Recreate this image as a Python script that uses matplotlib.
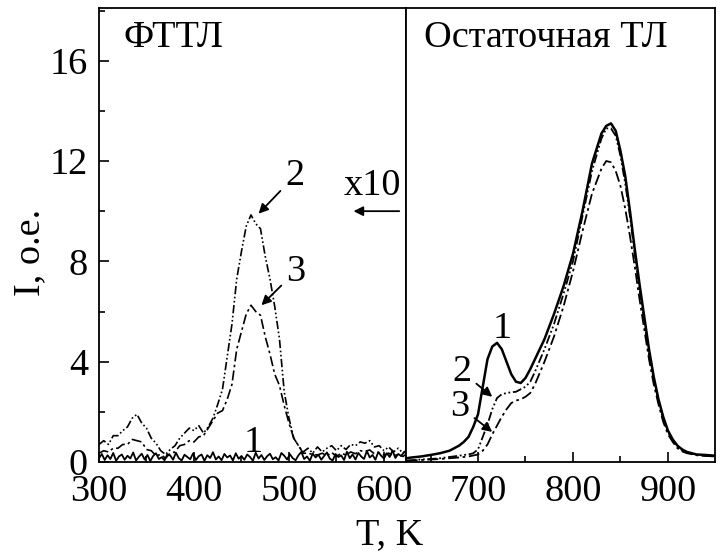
import matplotlib
matplotlib.use("Agg")
import matplotlib.pyplot as plt
from matplotlib.ticker import MultipleLocator, FixedLocator

plt.rcParams['font.family'] = ['Liberation Serif', 'DejaVu Serif']

# ---------------- data ----------------
# Left panel (ФТТЛ, x10)
T1_left = list(range(300, 624, 3))
I1_left = [0.15, 0.32, 0.08, 0.27, 0.12, 0.36, 0.05, 0.22, 0.30, 0.09, 0.25, 0.14, 0.38, 0.06, 0.21, 0.33, 0.10, 0.28, 0.04, 0.24,
           0.35, 0.12, 0.19, 0.07, 0.31, 0.26, 0.09, 0.37, 0.15, 0.06, 0.29, 0.20, 0.11, 0.34, 0.08, 0.23, 0.30, 0.05, 0.27, 0.16,
           0.39, 0.10, 0.22, 0.07, 0.32, 0.18, 0.26, 0.06, 0.35, 0.13, 0.24, 0.09, 0.30, 0.20, 0.05, 0.37, 0.14, 0.28, 0.08, 0.23,
           0.33, 0.11, 0.19, 0.06, 0.36, 0.25, 0.10, 0.31, 0.15, 0.07, 0.27, 0.40, 0.12, 0.22, 0.05, 0.34, 0.18, 0.29, 0.09, 0.24,
           0.38, 0.13, 0.06, 0.32, 0.20, 0.26, 0.08, 0.41, 0.15, 0.30, 0.10, 0.36, 0.22, 0.12, 0.44, 0.18, 0.28, 0.09, 0.40, 0.25,
           0.14, 0.35, 0.20, 0.46, 0.16, 0.32, 0.24, 0.38]

T_left = [300, 305, 310, 315, 320, 325, 330, 335, 340, 345, 350, 355, 360, 365, 370, 375,
          380, 385, 390, 395, 400, 405, 410, 415, 420, 425, 430, 435, 440, 445, 450, 455,
          460, 465, 470, 475, 480, 485, 490, 495, 500, 505, 510, 515, 520, 525, 530, 535,
          540, 545, 550, 555, 560, 565, 570, 575, 580, 585, 590, 595, 600, 605, 610, 615, 620, 623]
I2_left = [0.70, 0.85, 0.70, 1.05, 1.05, 1.25, 1.40, 1.75, 1.90, 1.55, 1.35, 0.95, 0.75, 0.45, 0.30, 0.50,
           0.65, 0.95, 1.15, 1.35, 1.25, 1.45, 1.15, 1.40, 1.75, 2.30, 2.90, 4.20, 5.50, 7.30, 8.40, 9.40,
           9.85, 9.50, 9.30, 8.20, 7.30, 6.20, 4.90, 2.80, 1.75, 0.95, 0.65, 0.40, 0.55, 0.35, 0.60, 0.40,
           0.55, 0.65, 0.45, 0.65, 0.50, 0.70, 0.65, 0.80, 0.75, 0.85, 0.60, 0.65, 0.45, 0.60, 0.40, 0.55, 0.35, 0.45]
I3_left = [0.35, 0.45, 0.40, 0.55, 0.55, 0.70, 0.70, 0.90, 0.85, 0.80, 0.50, 0.45, 0.25, 0.30, 0.15, 0.35,
           0.40, 0.65, 0.70, 0.85, 0.80, 1.00, 1.05, 1.35, 1.65, 1.95, 2.05, 2.50, 3.10, 4.50, 5.20, 5.90,
           6.25, 6.00, 5.85, 5.00, 4.30, 3.50, 3.05, 2.25, 1.55, 0.95, 0.65, 0.35, 0.35, 0.30, 0.28, 0.35,
           0.25, 0.38, 0.22, 0.35, 0.28, 0.40, 0.33, 0.45, 0.42, 0.48, 0.32, 0.36, 0.28, 0.35, 0.25, 0.30, 0.22, 0.30]

# Right panel (Остаточная ТЛ)
T_right = [625, 630, 640, 650, 660, 670, 680, 685, 690, 695, 700, 705, 710, 715, 720, 725, 730,
           735, 740, 745, 750, 755, 760, 770, 780, 790, 800, 810, 820, 830, 835, 840, 845, 850,
           855, 860, 865, 870, 875, 880, 885, 890, 895, 900, 905, 910, 915, 920, 930, 940, 950]
I1_right = [0.15, 0.18, 0.22, 0.28, 0.35, 0.45, 0.65, 0.80, 1.00, 1.40, 1.90, 3.00, 4.10, 4.60, 4.75, 4.50, 4.00,
            3.50, 3.20, 3.15, 3.35, 3.70, 4.10, 4.90, 5.90, 7.00, 8.30, 10.00, 11.90, 13.10, 13.40, 13.50, 13.20, 12.40,
            11.40, 10.00, 8.50, 7.10, 5.80, 4.50, 3.40, 2.50, 1.80, 1.25, 0.90, 0.65, 0.50, 0.40, 0.30, 0.28, 0.25]
I2_right = [0.05, 0.07, 0.10, 0.12, 0.15, 0.20, 0.25, 0.28, 0.30, 0.35, 0.50, 1.00, 1.50, 2.10, 2.55, 2.70, 2.75,
            2.78, 2.80, 2.90, 3.00, 3.20, 3.60, 4.50, 5.50, 6.70, 8.00, 9.80, 11.60, 12.90, 13.30, 13.30, 13.00, 12.20,
            11.10, 9.80, 8.30, 6.90, 5.60, 4.30, 3.30, 2.40, 1.70, 1.20, 0.85, 0.60, 0.47, 0.38, 0.28, 0.25, 0.22]
I3_right = [0.05, 0.06, 0.08, 0.10, 0.12, 0.15, 0.18, 0.20, 0.22, 0.26, 0.30, 0.45, 0.70, 1.10, 1.45, 1.80, 2.10,
            2.35, 2.45, 2.50, 2.60, 2.75, 3.10, 4.00, 5.00, 6.20, 7.60, 9.20, 10.70, 11.70, 12.00, 11.95, 11.60, 11.00,
            10.10, 9.00, 7.80, 6.50, 5.30, 4.10, 3.10, 2.30, 1.60, 1.10, 0.80, 0.55, 0.42, 0.35, 0.27, 0.24, 0.22]

left_xticks = [300, 400, 500, 600]
right_xticks = [700, 800, 900]
yticks = [0, 4, 8, 12, 16]

# ---------------- figure ----------------
W, H = 720, 555
fig = plt.figure(figsize=(W / 100, H / 100), dpi=100)

def pos(x0, x1, y0, y1):
    return [x0 / W, 1 - y1 / H, (x1 - x0) / W, (y1 - y0) / H]

ax1 = fig.add_axes(pos(99, 406, 8, 462))
ax2 = fig.add_axes(pos(406, 715, 8, 462))

ls2 = (0, (5, 1.5, 1, 1.5, 1, 1.5))
ls3 = (0, (6, 2, 1.5, 2))

ax1.plot(T1_left, I1_left, color='black', lw=1.3, ls='-')
ax1.plot(T_left, I2_left, color='black', lw=1.2, ls=ls2)
ax1.plot(T_left, I3_left, color='black', lw=1.2, ls=ls3)

ax2.plot(T_right, I1_right, color='black', lw=1.8, ls='-')
ax2.plot(T_right, I2_right, color='black', lw=1.3, ls=ls2)
ax2.plot(T_right, I3_right, color='black', lw=1.3, ls=ls3)

ax1.set_xlim(300, 623.2)
ax2.set_xlim(624.2, 949.5)
for ax in (ax1, ax2):
    ax.set_ylim(0, 18.1)
    for s in ax.spines.values():
        s.set_linewidth(1.3)

fs = 27.5
ax1.xaxis.set_major_locator(FixedLocator(left_xticks))
ax1.xaxis.set_minor_locator(MultipleLocator(50))
ax1.yaxis.set_major_locator(FixedLocator(yticks))
ax1.yaxis.set_minor_locator(MultipleLocator(2))
ax1.tick_params(which='both', direction='in', top=False, right=False, labelsize=fs, width=1.2)
ax1.tick_params(which='major', length=7)
ax1.tick_params(which='minor', length=4)
ax1.tick_params(axis='x', pad=9)
ax1.tick_params(axis='y', pad=8)

ax2.xaxis.set_major_locator(FixedLocator(right_xticks))
ax2.xaxis.set_minor_locator(MultipleLocator(50))
ax2.set_yticks([])
ax2.tick_params(which='both', direction='in', top=False, right=False, left=False, labelsize=fs, width=1.2)
ax2.tick_params(which='major', length=7)
ax2.tick_params(which='minor', length=4)
ax2.tick_params(axis='x', pad=9)

# axis labels
fig.text(30 / W, 1 - 252 / H, 'I, o.e.', rotation=90, ha='center', va='center', fontsize=fs)
fig.text(390 / W, 1 - 535 / H, 'T, K', ha='center', va='center', fontsize=fs)

# panel titles
ax1.text(326, 16.9, 'ФТТЛ', ha='left', va='center', fontsize=fs)
ax2.text(643, 16.9, 'Остаточная ТЛ', ha='left', va='center', fontsize=fs)

# x10 marker
ax1.text(588, 11.0, 'x10', ha='center', va='center', fontsize=fs)
ax1.annotate('', xy=(565, 10.0), xytext=(619, 10.0),
             arrowprops=dict(arrowstyle='-|>', color='black', lw=1.3, mutation_scale=14))

# curve labels, left
arrow = dict(arrowstyle='-|>', color='black', lw=1.3, mutation_scale=14, shrinkA=2, shrinkB=0)
ax1.annotate('2', xy=(468, 9.9), xytext=(506, 11.4), ha='center', va='center', fontsize=fs, arrowprops=arrow)
ax1.annotate('3', xy=(471, 6.25), xytext=(507, 7.6), ha='center', va='center', fontsize=fs, arrowprops=arrow)
ax1.text(462, 0.75, '1', ha='center', va='center', fontsize=fs)

# curve labels, right
ax2.text(725, 5.3, '1', ha='center', va='center', fontsize=fs)
ax2.annotate('2', xy=(715, 2.6), xytext=(683, 3.6), ha='center', va='center', fontsize=fs, arrowprops=arrow)
ax2.annotate('3', xy=(715, 1.2), xytext=(681, 2.2), ha='center', va='center', fontsize=fs, arrowprops=arrow)

fig.savefig('out.png', dpi=100)
